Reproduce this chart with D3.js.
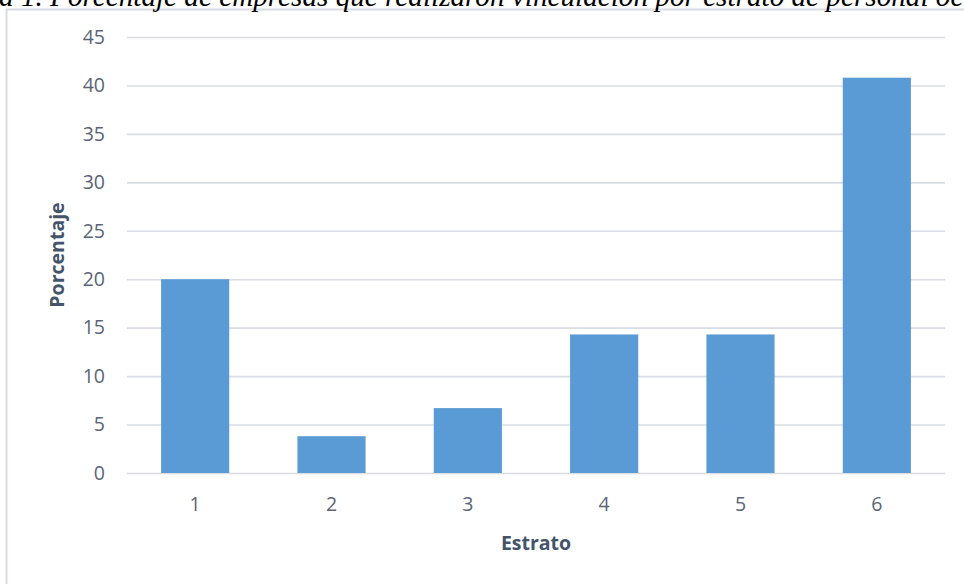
<!DOCTYPE html>
<html><head><meta charset="utf-8">
<script src="https://cdn.jsdelivr.net/npm/d3@7/dist/d3.min.js"></script>
<style>body{margin:0;background:#fff}svg{display:block}</style>
</head><body>
<svg id="c" width="964" height="584"></svg>
<script>
const categories = ["1","2","3","4","5","6"];
const values = [20, 3.8, 6.7, 14.3, 14.3, 40.8];
const yTicks = [0,5,10,15,20,25,30,35,40,45];
const title = "Figura 1. Porcentaje de empresas que realizaron vinculación por estrato de personal ocupado";
const xTitle = "Estrato";
const yTitle = "Porcentaje";

const svg = d3.select("#c");
const W = 964, H = 584;
const m = {left:127, right:964-945, top:37, bottom:584-473};
const x = d3.scaleBand().domain(categories).range([m.left, W-m.right]).paddingInner(0.5).paddingOuter(0.25);
const y = d3.scaleLinear().domain([0,45]).range([H-m.bottom, m.top]);

// frame
svg.append("rect").attr("x",6.5).attr("y",9.5).attr("width",1000).attr("height",1000)
  .attr("fill","#fff").attr("stroke","#d9dce3").attr("stroke-width",2);

// title (cut at top, as in the source image)
const tf = 29.2;
const t = svg.append("text").attr("y",6).attr("font-family","Liberation Serif, Times New Roman, serif")
  .attr("font-style","italic").attr("font-size",tf).attr("fill","#000").text(title);
const tmp = svg.append("text").attr("font-family","Liberation Serif, Times New Roman, serif")
  .attr("font-style","italic").attr("font-size",tf).text("Figur");
const off = tmp.node().getComputedTextLength(); tmp.remove();
t.attr("x", -off - 1);

// grid
const ga = svg.append("g").attr("transform",`translate(${m.left},0)`)
  .call(d3.axisLeft(y).tickValues(yTicks).tickSize(-(W-m.left-m.right)).tickPadding(22).tickFormat(d3.format("d")));
ga.select(".domain").remove();
ga.selectAll(".tick line").attr("stroke","#d9dce3").attr("stroke-width",1.6);
ga.selectAll(".tick text").attr("font-family","Open Sans, sans-serif").attr("font-size",19.5).attr("fill","#5a6578");

// bars
svg.append("g").selectAll("rect").data(values).join("rect")
  .attr("x",(d,i)=>x(categories[i])).attr("width",x.bandwidth())
  .attr("y",d=>y(d)).attr("height",d=>y(0)-y(d)).attr("fill","#5b9bd5");

// x axis
const xa = svg.append("g").attr("transform",`translate(0,${H-m.bottom})`)
  .call(d3.axisBottom(x).tickSize(0).tickPadding(24));
xa.select(".domain").remove();
xa.selectAll(".tick text").attr("font-family","Open Sans, sans-serif").attr("font-size",19.5).attr("fill","#5a6578");

svg.append("text").attr("x",(m.left+W-m.right)/2).attr("y",550).attr("text-anchor","middle")
  .attr("font-family","Open Sans, sans-serif").attr("font-weight","bold").attr("font-size",19.5)
  .attr("fill","#44546a").text(xTitle);
svg.append("text").attr("transform",`translate(64,${(m.top+H-m.bottom)/2}) rotate(-90)`).attr("text-anchor","middle")
  .attr("font-family","Open Sans, sans-serif").attr("font-weight","bold").attr("font-size",19.5)
  .attr("fill","#44546a").text(yTitle);
</script>
</body></html>
